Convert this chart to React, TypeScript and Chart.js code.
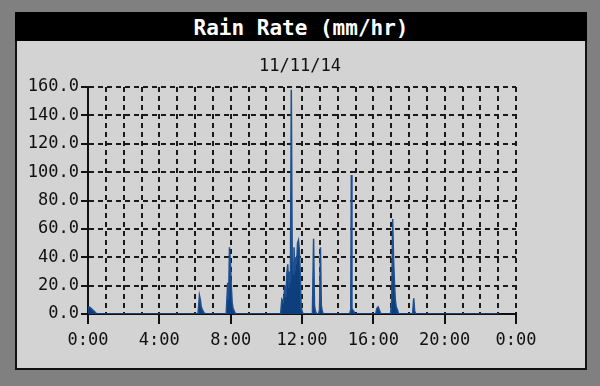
import React, { useEffect, useRef } from 'react';
import { Chart, registerables } from 'chart.js';

Chart.register(...registerables);

// time of day in minutes since midnight
const times = [
  0, 5, 10, 15, 20, 25, 30,
  370, 375, 378, 381, 385, 390, 395,
  465, 470, 473, 476, 479, 482, 485, 488, 492, 497,
  648, 652, 656, 660, 663, 666, 669, 672, 675, 678, 681, 684, 687, 690, 693, 696, 699, 702, 705, 708, 711, 714, 717, 720, 724,
  755, 759, 762, 765, 769,
  776, 779, 782, 785, 788, 792,
  880, 884, 886, 888, 890, 894, 898,
  968, 972, 976, 980, 985,
  1018, 1022, 1025, 1028, 1031, 1034, 1037, 1041, 1045,
  1092, 1096, 1099, 1103,
  1383,
];

// rain rate in mm/hr
const rates = [
  5, 5, 4, 3, 2, 1, 0,
  0, 13, 10, 5, 3, 1, 0,
  0, 22, 10, 47, 37, 20, 8, 4, 2, 0,
  0, 10, 8, 14, 20, 12, 28, 35, 18, 30, 22, 158, 40, 28, 47, 30, 40, 35, 50, 52, 45, 30, 5, 2, 0,
  0, 53, 6, 2, 0,
  0, 3, 47, 6, 2, 0,
  0, 3, 98, 4, 3, 2, 0,
  0, 4, 5, 3, 0,
  0, 10, 67, 39, 22, 10, 5, 3, 0,
  0, 11, 2, 0,
  0,
];

const xTickLabels = ['0:00', '4:00', '8:00', '12:00', '16:00', '20:00', '0:00'];
const titleText = 'Rain Rate (mm/hr)';
const dateText = '11/11/14';

const MONO = '"DejaVu Sans Mono", "Liberation Mono", monospace';

export default function App() {
  const ref = useRef<HTMLCanvasElement | null>(null);

  useEffect(() => {
    if (!ref.current) return;
    const chart = new Chart(ref.current, {
      type: 'line',
      data: {
        datasets: [
          {
            data: times.map((t, i) => ({ x: t, y: rates[i] })),
            fill: 'origin',
            backgroundColor: '#0d3f7c',
            borderColor: '#1f4f8e',
            borderWidth: 1.5,
            pointRadius: 0,
            tension: 0,
          },
        ],
      },
      options: {
        animation: false,
        responsive: false,
        devicePixelRatio: 1,
        layout: { padding: { left: 0, right: 0, top: 0, bottom: 0 } },
        plugins: {
          legend: { display: false },
          tooltip: { enabled: false },
          title: {
            display: true,
            text: dateText,
            color: '#111',
            font: { family: MONO, size: 17, weight: 'normal', lineHeight: 1.2 },
            padding: { top: 56.5, bottom: 10.1 },
          },
        },
        scales: {
          x: {
            type: 'linear',
            min: 0,
            max: 1440,
            afterFit: (s: any) => {
              s.height = 72;
            },
            ticks: {
              stepSize: 60,
              autoSkip: false,
              maxRotation: 0,
              padding: 6,
              color: '#111',
              font: { family: MONO, size: 17 },
              callback: (v: any) => {
                const n = Number(v);
                return n % 240 === 0 ? xTickLabels[n / 240] : '';
              },
            },
            grid: {
              color: '#1a1a1a',
              lineWidth: 2,
              tickLength: 10,
              tickWidth: 2,
              tickColor: (ctx: any) =>
                ctx.tick && ctx.tick.value % 240 === 0 ? '#111' : 'rgba(0,0,0,0)',
            },
            border: { display: true, color: '#111', width: 2, dash: [5, 4] },
          },
          y: {
            min: 0,
            max: 160,
            afterFit: (s: any) => {
              s.width = 88;
            },
            ticks: {
              stepSize: 20,
              padding: 2,
              color: '#111',
              font: { family: MONO, size: 17 },
              callback: (v: any) => Number(v).toFixed(1),
            },
            grid: {
              color: '#1a1a1a',
              lineWidth: 2,
              tickLength: 7,
              tickWidth: 2,
              tickColor: '#111',
            },
            border: { display: true, color: '#111', width: 2, dash: [5, 4] },
          },
          yRight: {
            position: 'right',
            min: 0,
            max: 1,
            afterFit: (s: any) => {
              s.width = 84;
            },
            ticks: { display: false },
            grid: { display: false, drawTicks: false },
            border: { display: false },
          },
        },
      },
    });
    return () => chart.destroy();
  }, []);

  return (
    <div
      style={{
        position: 'fixed',
        left: 0,
        top: 0,
        width: 600,
        height: 386,
        background: '#808080',
        overflow: 'hidden',
      }}
    >
      <div
        style={{
          position: 'absolute',
          left: 15,
          top: 12,
          width: 572,
          height: 358,
          boxSizing: 'border-box',
          background: '#d3d3d3',
          border: '2px solid #111',
        }}
      />
      <div
        style={{
          position: 'absolute',
          left: 15,
          top: 12,
          width: 572,
          height: 29,
          background: '#000',
          color: '#fff',
          fontFamily: MONO,
          fontWeight: 'bold',
          fontSize: 21,
          lineHeight: '29px',
          textAlign: 'center',
          whiteSpace: 'pre',
        }}
      >
        <span style={{ position: 'relative', top: 2 }}>{titleText}</span>
      </div>
      <canvas
        ref={ref}
        width={600}
        height={386}
        style={{ position: 'absolute', left: 0, top: 0, width: 600, height: 386 }}
      />
    </div>
  );
}
